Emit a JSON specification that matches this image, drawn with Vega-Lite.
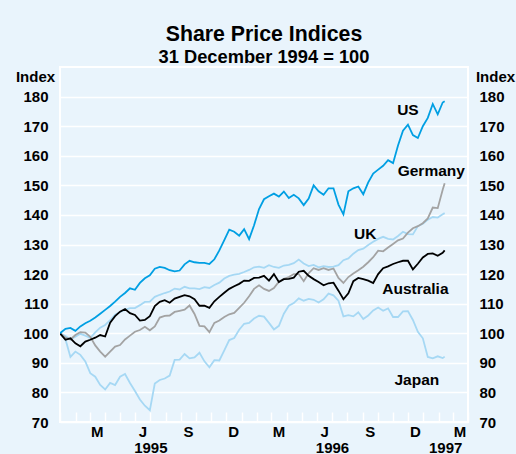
{
  "$schema": "https://vega.github.io/schema/vega-lite/v6.json",
  "width": 408,
  "height": 355,
  "autosize": "none",
  "padding": {"left": 60, "top": 67, "right": 48, "bottom": 32},
  "background": "#e9f4fc",
  "config": {
    "view": {"stroke": "white", "strokeWidth": 2, "fill": "#e9f4fc"},
    "font": "Liberation Sans",
    "axis": {
      "labelFont": "Liberation Sans", "labelFontSize": 15, "labelFontWeight": "bold", "labelColor": "black",
      "titleFont": "Liberation Sans", "titleFontSize": 15, "titleFontWeight": "bold", "titleColor": "black"
    }
  },
  "title": {
    "text": "Share Price Indices",
    "subtitle": "31 December 1994 = 100",
    "anchor": "middle", "frame": "group",
    "font": "Liberation Sans", "subtitleFont": "Liberation Sans",
    "fontSize": 21.3, "subtitleFontSize": 18.3,
    "fontWeight": "bold", "subtitleFontWeight": "bold",
    "color": "black", "subtitleColor": "black",
    "offset": 1, "subtitlePadding": 3
  },
  "datasets": {
    "idx": [
      {"date": "1994-12-31", "US": 100, "UK": 100, "Japan": 100, "Germany": 100, "Australia": 100},
      {"date": "1995-01-11", "US": 101.5, "UK": 99.1, "Japan": 98, "Germany": 98.5, "Australia": 97.8},
      {"date": "1995-01-21", "US": 101.8, "UK": 97.9, "Japan": 92, "Germany": 97.9, "Australia": 98.3},
      {"date": "1995-01-31", "US": 100.8, "UK": 98.8, "Japan": 93.8, "Germany": 99.4, "Australia": 96.6},
      {"date": "1995-02-10", "US": 102.3, "UK": 99.8, "Japan": 92.7, "Germany": 100.4, "Australia": 95.6},
      {"date": "1995-02-20", "US": 103.4, "UK": 99.2, "Japan": 90.5, "Germany": 100.2, "Australia": 97.2},
      {"date": "1995-03-02", "US": 104.2, "UK": 98.4, "Japan": 86.5, "Germany": 98.8, "Australia": 97.8},
      {"date": "1995-03-12", "US": 105.3, "UK": 100.3, "Japan": 85.3, "Germany": 95.9, "Australia": 98.5},
      {"date": "1995-03-22", "US": 106.6, "UK": 101.9, "Japan": 82.5, "Germany": 93.8, "Australia": 99.4},
      {"date": "1995-04-01", "US": 107.9, "UK": 102.8, "Japan": 81, "Germany": 92.1, "Australia": 98.9},
      {"date": "1995-04-11", "US": 109.2, "UK": 104.4, "Japan": 83.2, "Germany": 93.8, "Australia": 103.6},
      {"date": "1995-04-21", "US": 110.7, "UK": 106.3, "Japan": 82.5, "Germany": 95.5, "Australia": 105.8},
      {"date": "1995-05-01", "US": 112.3, "UK": 107.2, "Japan": 85.3, "Germany": 96, "Australia": 107.3},
      {"date": "1995-05-11", "US": 113.6, "UK": 107.9, "Japan": 86.2, "Germany": 97.9, "Australia": 108.2},
      {"date": "1995-05-21", "US": 115.2, "UK": 108.5, "Japan": 83.2, "Germany": 99.2, "Australia": 106.8},
      {"date": "1995-05-31", "US": 114.7, "UK": 108.5, "Japan": 80.5, "Germany": 100.5, "Australia": 106.2},
      {"date": "1995-06-10", "US": 117, "UK": 109.5, "Japan": 77.6, "Germany": 101.1, "Australia": 104.3},
      {"date": "1995-06-20", "US": 118.6, "UK": 110.6, "Japan": 75.5, "Germany": 102.2, "Australia": 104.5},
      {"date": "1995-06-30", "US": 119.6, "UK": 110.7, "Japan": 74, "Germany": 101, "Australia": 105.8},
      {"date": "1995-07-10", "US": 121.8, "UK": 112.3, "Japan": 83, "Germany": 102.3, "Australia": 109.2},
      {"date": "1995-07-20", "US": 122.4, "UK": 113, "Japan": 84.2, "Germany": 105.3, "Australia": 110.6},
      {"date": "1995-07-30", "US": 122.1, "UK": 113.6, "Japan": 84.7, "Germany": 105.9, "Australia": 111.2},
      {"date": "1995-08-09", "US": 121.3, "UK": 114.1, "Japan": 85.7, "Germany": 106, "Australia": 110.3},
      {"date": "1995-08-19", "US": 120.9, "UK": 115.1, "Japan": 91, "Germany": 107.2, "Australia": 111.7},
      {"date": "1995-08-29", "US": 121.2, "UK": 114.8, "Japan": 91.1, "Germany": 107.6, "Australia": 112.3},
      {"date": "1995-09-08", "US": 123.3, "UK": 115.7, "Japan": 93, "Germany": 108, "Australia": 112.9},
      {"date": "1995-09-18", "US": 124.5, "UK": 115.2, "Japan": 91.5, "Germany": 109.4, "Australia": 112.5},
      {"date": "1995-09-28", "US": 124, "UK": 115.2, "Japan": 91.8, "Germany": 106.5, "Australia": 111.5},
      {"date": "1995-10-08", "US": 123.8, "UK": 114.9, "Japan": 93.4, "Germany": 102.5, "Australia": 109.3},
      {"date": "1995-10-18", "US": 123.8, "UK": 115.6, "Japan": 90.5, "Germany": 102.3, "Australia": 109.3},
      {"date": "1995-10-28", "US": 123.4, "UK": 115.3, "Japan": 88.5, "Germany": 100.4, "Australia": 108.6},
      {"date": "1995-11-07", "US": 125, "UK": 116.3, "Japan": 90.9, "Germany": 103.5, "Australia": 110.8},
      {"date": "1995-11-17", "US": 128, "UK": 117.1, "Japan": 90.8, "Germany": 104.3, "Australia": 112.3},
      {"date": "1995-11-27", "US": 131.5, "UK": 118.5, "Japan": 94.2, "Germany": 105.5, "Australia": 113.7},
      {"date": "1995-12-07", "US": 135, "UK": 119.4, "Japan": 97.7, "Germany": 106.4, "Australia": 115},
      {"date": "1995-12-17", "US": 134.3, "UK": 119.8, "Japan": 98.4, "Germany": 106.9, "Australia": 115.9},
      {"date": "1995-12-27", "US": 133, "UK": 120.1, "Japan": 101.2, "Germany": 108.6, "Australia": 116.7},
      {"date": "1996-01-06", "US": 135.2, "UK": 120.7, "Japan": 103.2, "Germany": 110.3, "Australia": 117.8},
      {"date": "1996-01-16", "US": 131.8, "UK": 121.4, "Japan": 103.5, "Germany": 112.5, "Australia": 117.7},
      {"date": "1996-01-26", "US": 136.5, "UK": 122.3, "Japan": 105, "Germany": 115, "Australia": 118.7},
      {"date": "1996-02-05", "US": 142, "UK": 122.5, "Japan": 105.9, "Germany": 116.2, "Australia": 118.8},
      {"date": "1996-02-15", "US": 145.3, "UK": 122.1, "Japan": 105.6, "Germany": 115, "Australia": 119.4},
      {"date": "1996-02-25", "US": 146.3, "UK": 123, "Japan": 103.5, "Germany": 114.3, "Australia": 117.8},
      {"date": "1996-03-06", "US": 147.2, "UK": 122.4, "Japan": 101.3, "Germany": 115.3, "Australia": 120},
      {"date": "1996-03-16", "US": 146.2, "UK": 122.1, "Japan": 102.5, "Germany": 117.4, "Australia": 117.3},
      {"date": "1996-03-26", "US": 147.9, "UK": 122.9, "Japan": 106.6, "Germany": 118.4, "Australia": 118.3},
      {"date": "1996-04-05", "US": 145.7, "UK": 123.1, "Japan": 109.3, "Germany": 119, "Australia": 118.4},
      {"date": "1996-04-15", "US": 146.8, "UK": 123.7, "Japan": 110.2, "Germany": 120, "Australia": 118.8},
      {"date": "1996-04-25", "US": 145.6, "UK": 124.9, "Japan": 111.8, "Germany": 120, "Australia": 120.8},
      {"date": "1996-05-05", "US": 143.3, "UK": 123.6, "Japan": 111, "Germany": 117.6, "Australia": 121.1},
      {"date": "1996-05-15", "US": 145.5, "UK": 122.7, "Japan": 111.6, "Germany": 120.3, "Australia": 119.4},
      {"date": "1996-05-25", "US": 150, "UK": 123.1, "Japan": 111.3, "Germany": 122, "Australia": 118.3},
      {"date": "1996-06-04", "US": 148, "UK": 122.3, "Japan": 110.4, "Germany": 121.4, "Australia": 117.3},
      {"date": "1996-06-14", "US": 146.8, "UK": 122.7, "Japan": 111.5, "Germany": 122, "Australia": 116.2},
      {"date": "1996-06-24", "US": 149, "UK": 122.4, "Japan": 113.4, "Germany": 121.4, "Australia": 116.9},
      {"date": "1996-07-04", "US": 149, "UK": 122.5, "Japan": 112.8, "Germany": 121.9, "Australia": 117.1},
      {"date": "1996-07-14", "US": 143.5, "UK": 123, "Japan": 111, "Germany": 118.7, "Australia": 114.4},
      {"date": "1996-07-24", "US": 140.2, "UK": 124.7, "Japan": 105.7, "Germany": 117, "Australia": 111.5},
      {"date": "1996-08-03", "US": 148, "UK": 125.3, "Japan": 106.1, "Germany": 119, "Australia": 113.5},
      {"date": "1996-08-13", "US": 149, "UK": 126.9, "Japan": 105.7, "Germany": 120.2, "Australia": 117.6},
      {"date": "1996-08-23", "US": 149.6, "UK": 128.1, "Japan": 107.1, "Germany": 121.3, "Australia": 118.7},
      {"date": "1996-09-02", "US": 147, "UK": 128.6, "Japan": 104.8, "Germany": 122.5, "Australia": 118.3},
      {"date": "1996-09-12", "US": 151, "UK": 129.8, "Japan": 106, "Germany": 124, "Australia": 117.8},
      {"date": "1996-09-22", "US": 154, "UK": 130.9, "Japan": 107.7, "Germany": 125.7, "Australia": 117},
      {"date": "1996-10-02", "US": 155.3, "UK": 131.9, "Japan": 108.7, "Germany": 127.9, "Australia": 120},
      {"date": "1996-10-12", "US": 156.6, "UK": 132.6, "Japan": 107.6, "Germany": 127.7, "Australia": 122},
      {"date": "1996-10-22", "US": 158.5, "UK": 131.9, "Japan": 108.4, "Germany": 129, "Australia": 122.6},
      {"date": "1996-11-01", "US": 157.5, "UK": 131.7, "Japan": 105.5, "Germany": 130.2, "Australia": 123.4},
      {"date": "1996-11-11", "US": 163.5, "UK": 132.9, "Japan": 105.5, "Germany": 131.4, "Australia": 124},
      {"date": "1996-11-21", "US": 168.5, "UK": 134.3, "Japan": 107.4, "Germany": 132, "Australia": 124.5},
      {"date": "1996-12-01", "US": 170.5, "UK": 133.5, "Japan": 107.5, "Germany": 134, "Australia": 124.5},
      {"date": "1996-12-11", "US": 167, "UK": 133.4, "Japan": 104.5, "Germany": 135.5, "Australia": 121.6},
      {"date": "1996-12-21", "US": 166, "UK": 136.2, "Japan": 100.5, "Germany": 136.2, "Australia": 123.5},
      {"date": "1996-12-31", "US": 170, "UK": 137, "Japan": 98.3, "Germany": 137.2, "Australia": 125.6},
      {"date": "1997-01-10", "US": 172.8, "UK": 138.4, "Japan": 92, "Germany": 138.8, "Australia": 126.8},
      {"date": "1997-01-20", "US": 177.5, "UK": 139.3, "Japan": 91.5, "Germany": 142.5, "Australia": 127},
      {"date": "1997-01-30", "US": 174, "UK": 139.1, "Japan": 92.2, "Germany": 142.3, "Australia": 126.2},
      {"date": "1997-02-09", "US": 178, "UK": 140.2, "Japan": 91.6, "Germany": 148.5, "Australia": 127.2},
      {"date": "1997-02-13", "US": 178.4, "UK": 140.6, "Japan": 92.1, "Germany": 150.7, "Australia": 128}
    ],
    "labels": [
      {"date": "1996-12-01", "value": 175.6, "label": "US"},
      {"date": "1997-01-17", "value": 154.7, "label": "Germany"},
      {"date": "1996-09-06", "value": 133.6, "label": "UK"},
      {"date": "1996-12-16", "value": 114.9, "label": "Australia"},
      {"date": "1996-12-19", "value": 84.2, "label": "Japan"}
    ]
  },
  "layer": [
    {
      "data": {"name": "idx"},
      "transform": [{"fold": ["UK", "Japan", "Germany", "Australia", "US"], "as": ["series", "value"]}],
      "mark": {"type": "line", "strokeWidth": 1.8, "clip": true},
      "encoding": {
        "x": {
          "field": "date", "type": "temporal",
          "scale": {"type": "utc", "domain": [{"year": 1994, "month": 12, "date": 31, "utc": true}, {"year": 1997, "month": 4, "date": 1, "utc": true}]},
          "axis": {"orient": "bottom", "tickCount": {"interval": "month", "step": 1}, "labels": false, "ticks": true, "tickSize": -10, "tickColor": "white", "tickWidth": 1.5, "domain": false, "grid": false, "title": null}
        },
        "y": {
          "field": "value", "type": "quantitative",
          "scale": {"domain": [70, 190], "nice": false, "zero": false},
          "axis": {
            "orient": "left", "values": [70, 80, 90, 100, 110, 120, 130, 140, 150, 160, 170, 180],
            "grid": true, "gridColor": "white", "gridWidth": 1.5, "gridOpacity": 1,
            "domain": false, "ticks": false, "labelPadding": 12,
            "title": "Index", "titleAngle": 0, "titleX": -25, "titleY": 9, "titleAlign": "center", "titleBaseline": "middle"
          }
        },
        "color": {
          "field": "series", "type": "nominal",
          "scale": {"domain": ["UK", "Japan", "Germany", "Australia", "US"], "range": ["#a6d8f4", "#a6d8f4", "#a3a3a3", "#000000", "#009fe3"]},
          "legend": null
        }
      }
    },
    {
      "data": {"name": "labels"},
      "mark": {"type": "text", "font": "Liberation Sans", "fontSize": 15.5, "fontWeight": "bold", "color": "black", "align": "center", "baseline": "middle"},
      "encoding": {
        "x": {
          "field": "date", "type": "temporal",
          "axis": {
            "orient": "bottom",
            "values": [
              {"year": 1995, "month": 3, "date": 1, "utc": true}, {"year": 1995, "month": 6, "date": 1, "utc": true},
              {"year": 1995, "month": 9, "date": 1, "utc": true}, {"year": 1995, "month": 12, "date": 1, "utc": true},
              {"year": 1996, "month": 3, "date": 1, "utc": true}, {"year": 1996, "month": 6, "date": 1, "utc": true},
              {"year": 1996, "month": 9, "date": 1, "utc": true}, {"year": 1996, "month": 12, "date": 1, "utc": true},
              {"year": 1997, "month": 3, "date": 1, "utc": true}
            ],
            "labelExpr": "substring(utcFormat(datum.value, '%b'), 0, 1)",
            "labelOffset": 7, "labelPadding": 2, "labelBaseline": "top", "labelFlush": false, "labelOverlap": false,
            "ticks": false, "domain": false, "grid": false, "title": null
          }
        },
        "y": {
          "field": "value", "type": "quantitative",
          "axis": {
            "orient": "right", "values": [70, 80, 90, 100, 110, 120, 130, 140, 150, 160, 170, 180],
            "grid": false, "domain": false, "ticks": false, "labelPadding": 11,
            "title": "Index", "titleAngle": 0, "titleX": 27, "titleY": 9, "titleAlign": "center", "titleBaseline": "middle"
          }
        },
        "text": {"field": "label"}
      }
    },
    {
      "data": {"name": "labels"},
      "mark": {"type": "text", "opacity": 0},
      "encoding": {
        "x": {
          "field": "date", "type": "temporal",
          "axis": {
            "orient": "bottom",
            "values": [
              {"year": 1995, "month": 7, "date": 1, "utc": true},
              {"year": 1996, "month": 7, "date": 1, "utc": true},
              {"year": 1997, "month": 2, "date": 14, "utc": true}
            ],
            "labelExpr": "utcFormat(datum.value, '%Y')",
            "labelPadding": 18, "labelBaseline": "top", "labelFlush": false, "labelOverlap": false,
            "ticks": false, "domain": false, "grid": false, "title": null
          }
        },
        "y": {"field": "value", "type": "quantitative", "axis": null},
        "text": {"field": "label"}
      }
    }
  ],
  "resolve": {"axis": {"x": "independent", "y": "independent"}}
}
